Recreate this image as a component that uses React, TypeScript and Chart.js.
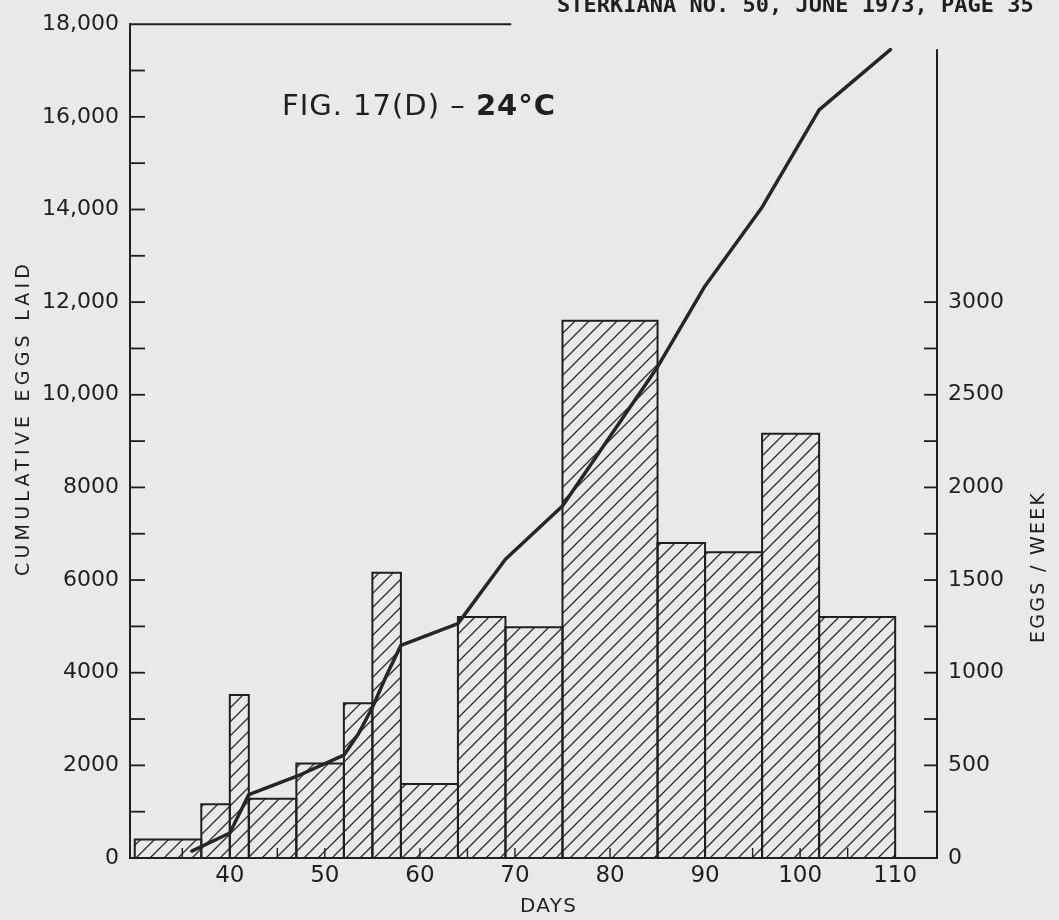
import React, { useEffect, useRef } from 'react';
import { Chart, registerables } from 'chart.js';

Chart.register(...registerables);

// Weekly egg counts as a histogram over unequal day intervals (right axis)
const BIN_EDGES = [30, 37, 40, 42, 47, 52, 55, 58, 64, 69, 75, 85, 90, 96, 102, 110];
const EGGS_PER_WEEK = [100, 290, 880, 320, 510, 835, 1540, 400, 1300, 1245, 2900, 1700, 1650, 2290, 1300];

// Cumulative eggs laid (left axis)
const CUM_DAYS = [36, 40, 42, 47, 52, 53.5, 55, 56.5, 58, 64, 69, 75, 85, 90, 96, 102, 109.5];
const CUM_EGGS = [150, 540, 1370, 1760, 2220, 2670, 3250, 3950, 4590, 5060, 6450, 7600, 10600, 12350, 14050, 16150, 17450];

// Axis ticks and labels
const DAY_TICKS = [35, 40, 45, 50, 55, 60, 65, 70, 75, 80, 85, 90, 95, 100, 105, 110];
const DAY_LABELS = [40, 50, 60, 70, 80, 90, 100, 110];
const CUM_TICKS = [0, 1000, 2000, 3000, 4000, 5000, 6000, 7000, 8000, 9000, 10000, 11000, 12000, 13000, 14000, 15000, 16000, 17000, 18000];
const CUM_LABELS = ['0', '2000', '4000', '6000', '8000', '10,000', '12,000', '14,000', '16,000', '18,000'];
const WEEK_TICKS = [0, 250, 500, 750, 1000, 1250, 1500, 1750, 2000, 2250, 2500, 2750, 3000];
const WEEK_LABELS = ['0', '500', '1000', '1500', '2000', '2500', '3000'];

const HEADER = 'STERKIANA NO. 50, JUNE 1973, PAGE 35';
const TITLE_MAIN = 'FIG. 17(D) – ';
const TITLE_TEMP = '24°C';
const X_TITLE = 'DAYS';
const Y_TITLE = 'CUMULATIVE EGGS LAID';
const Y2_TITLE = 'EGGS / WEEK';

const PAPER = '#e9e9e7';
const INK = '#1f1f1f';
const FONT = '"DejaVu Sans", sans-serif';

function makeHatch(): CanvasPattern | string {
  const s = 14;
  const c = document.createElement('canvas');
  c.width = s;
  c.height = s;
  const g = c.getContext('2d');
  if (!g) return 'transparent';
  g.strokeStyle = '#2c2c2c';
  g.lineWidth = 1.3;
  g.beginPath();
  g.moveTo(-2, s + 2);
  g.lineTo(s + 2, -2);
  g.moveTo(-2, 2);
  g.lineTo(2, -2);
  g.moveTo(s - 2, s + 2);
  g.lineTo(s + 2, s - 2);
  g.stroke();
  return g.createPattern(c, 'repeat') || 'transparent';
}

// Draws text with letter spacing stretched so the run spans `width` px, starting at x
function spacedText(ctx: CanvasRenderingContext2D, parts: { text: string; font: string }[], x: number, y: number, width: number) {
  let natural = 0;
  let count = 0;
  for (const p of parts) {
    ctx.font = p.font;
    (ctx as any).letterSpacing = '0px';
    natural += ctx.measureText(p.text).width;
    count += [...p.text].length;
  }
  const ls = Math.max(0, (width - natural) / Math.max(1, count - 1));
  let cx = x;
  for (const p of parts) {
    ctx.font = p.font;
    (ctx as any).letterSpacing = '0px';
    const w = ctx.measureText(p.text).width;
    (ctx as any).letterSpacing = ls + 'px';
    ctx.textAlign = 'left';
    ctx.fillText(p.text, cx, y);
    cx += w + [...p.text].length * ls;
  }
  (ctx as any).letterSpacing = '0px';
}

const framePlugin = {
  id: 'frame',
  afterDraw(chart: any) {
    const { ctx, chartArea } = chart;
    const { left, right, top, bottom } = chartArea;
    const x = chart.scales.x;
    const y = chart.scales.y;
    const yR = chart.scales.yR;
    ctx.save();
    ctx.strokeStyle = INK;
    ctx.lineWidth = 2;
    ctx.lineCap = 'square';
    const seg = (x1: number, y1: number, x2: number, y2: number) => {
      ctx.beginPath();
      ctx.moveTo(x1, y1);
      ctx.lineTo(x2, y2);
      ctx.stroke();
    };
    // axis frame: left axis, partial top rule, right axis, baseline
    seg(left, top, left, bottom);
    seg(left, top, x.getPixelForValue(69.5), top);
    seg(right, yR.getPixelForValue(4360), right, bottom);
    seg(left, bottom, right, bottom);

    ctx.lineWidth = 1.8;
    ctx.lineCap = 'butt';
    for (const v of CUM_TICKS) {
      if (v === 0 || v === 18000) continue;
      const py = y.getPixelForValue(v);
      seg(left, py, left + 15, py);
    }
    for (const v of WEEK_TICKS) {
      if (v === 0) continue;
      const py = yR.getPixelForValue(v);
      seg(right - 13, py, right, py);
    }
    ctx.lineWidth = 1.4;
    for (const v of DAY_TICKS) {
      const px = x.getPixelForValue(v);
      seg(px, bottom, px, bottom - 10);
    }

    // texts
    ctx.fillStyle = INK;
    ctx.textBaseline = 'alphabetic';
    spacedText(ctx, [{ text: HEADER, font: `bold 22px "DejaVu Sans Mono", monospace` }], 557, 12, 473);
    spacedText(
      ctx,
      [
        { text: TITLE_MAIN, font: `29px ${FONT}` },
        { text: TITLE_TEMP, font: `bold 29px ${FONT}` },
      ],
      282,
      115,
      273
    );
    spacedText(ctx, [{ text: X_TITLE, font: `20px ${FONT}` }], 520, 912, 56);

    ctx.save();
    ctx.translate(29, 420);
    ctx.rotate(-Math.PI / 2);
    spacedText(ctx, [{ text: Y_TITLE, font: `19px ${FONT}` }], -156, 0, 312);
    ctx.restore();

    ctx.save();
    ctx.translate(1044, 568);
    ctx.rotate(-Math.PI / 2);
    spacedText(ctx, [{ text: Y2_TITLE, font: `19px ${FONT}` }], -75, 0, 150);
    ctx.restore();

    ctx.restore();
  },
};

export default function App() {
  const ref = useRef<HTMLCanvasElement>(null);

  useEffect(() => {
    const canvas = ref.current;
    if (!canvas) return;
    const hatch = makeHatch();

    const bars = EGGS_PER_WEEK.map((v, i) => ({
      type: 'line' as const,
      label: `week ${i + 1}`,
      yAxisID: 'yR',
      data: [
        { x: BIN_EDGES[i], y: 0 },
        { x: BIN_EDGES[i], y: v },
        { x: BIN_EDGES[i + 1], y: v },
        { x: BIN_EDGES[i + 1], y: 0 },
      ],
      borderColor: INK,
      borderWidth: 2,
      borderJoinStyle: 'miter' as const,
      backgroundColor: hatch,
      fill: 'origin',
      pointRadius: 0,
      tension: 0,
      order: 2,
    }));

    const cumulative = {
      type: 'line' as const,
      label: 'cumulative',
      yAxisID: 'y',
      data: CUM_DAYS.map((d, i) => ({ x: d, y: CUM_EGGS[i] })),
      borderColor: '#262626',
      borderWidth: 3.5,
      borderJoinStyle: 'round' as const,
      borderCapStyle: 'round' as const,
      fill: false,
      pointRadius: 0,
      tension: 0,
      order: 0,
    };

    const tickFont = (size: number) => ({ family: FONT, size, weight: 'normal' as const });

    const chart = new Chart(canvas, {
      type: 'line',
      data: { datasets: [cumulative, ...bars] as any },
      options: {
        responsive: false,
        animation: false,
        devicePixelRatio: 1,
        events: [],
        layout: { padding: { top: 19, left: 0, right: 0, bottom: 0 } },
        plugins: { legend: { display: false }, tooltip: { enabled: false }, title: { display: false } },
        scales: {
          x: {
            type: 'linear',
            min: 29.5,
            max: 114.4,
            grid: { display: false, drawTicks: false },
            border: { display: false },
            afterBuildTicks: (s: any) => {
              s.ticks = DAY_TICKS.map((v) => ({ value: v }));
            },
            afterFit: (s: any) => {
              s.height = 62;
            },
            ticks: {
              autoSkip: false,
              maxRotation: 0,
              padding: 4,
              color: INK,
              font: tickFont(23),
              callback: (v: any) => (DAY_LABELS.includes(Number(v)) ? String(v) : ''),
            },
          },
          y: {
            type: 'linear',
            position: 'left',
            min: 0,
            max: 18000,
            grid: { display: false, drawTicks: false },
            border: { display: false },
            afterBuildTicks: (s: any) => {
              s.ticks = CUM_TICKS.map((v) => ({ value: v }));
            },
            afterFit: (s: any) => {
              s.width = 130;
            },
            ticks: {
              autoSkip: false,
              padding: 11,
              color: INK,
              font: tickFont(22),
              callback: (v: any) => {
                const n = Number(v);
                return n % 2000 === 0 ? CUM_LABELS[n / 2000] : '';
              },
            },
          },
          yR: {
            type: 'linear',
            position: 'right',
            min: 0,
            max: 4500,
            grid: { display: false, drawTicks: false },
            border: { display: false },
            afterBuildTicks: (s: any) => {
              s.ticks = WEEK_TICKS.map((v) => ({ value: v }));
            },
            afterFit: (s: any) => {
              s.width = 122;
            },
            ticks: {
              autoSkip: false,
              padding: 11,
              color: INK,
              font: tickFont(22),
              callback: (v: any) => {
                const n = Number(v);
                return n % 500 === 0 ? WEEK_LABELS[n / 500] : '';
              },
            },
          },
        },
      },
      plugins: [framePlugin],
    } as any);

    return () => chart.destroy();
  }, []);

  return (
    <div
      style={{
        position: 'absolute',
        left: 0,
        top: 0,
        width: 1059,
        height: 920,
        background: PAPER,
        overflow: 'hidden',
      }}
    >
      <canvas ref={ref} width={1059} height={920} style={{ display: 'block' }} />
    </div>
  );
}
